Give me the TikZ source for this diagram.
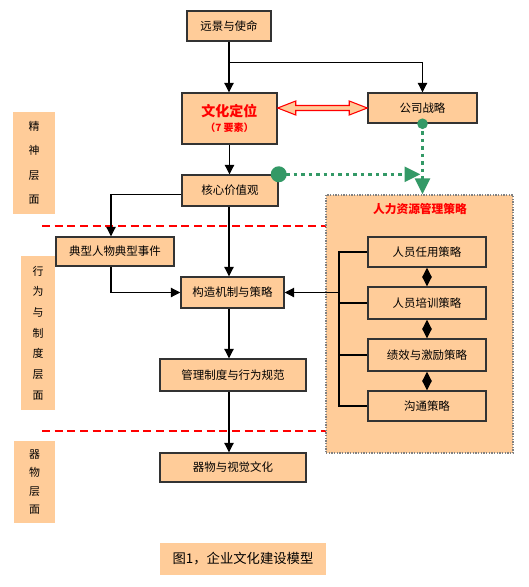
\documentclass[tikz,border=0pt]{standalone}
\usepackage{fontspec}
\setmainfont{Noto Sans CJK SC}
\newfontfamily\cjk{Noto Sans CJK SC}
\usetikzlibrary{arrows.meta,calc}
\definecolor{peach}{HTML}{FFCC99}
\definecolor{grn}{HTML}{339966}
\definecolor{edge}{HTML}{333333}
\tikzset{
  box/.style={draw=edge,line width=1.1pt,fill=peach,inner sep=0pt,font=\cjk\fontsize{8.6}{10}\selectfont},
  sidebox/.style={fill=peach,inner sep=0pt,align=center,font=\cjk\fontsize{8.2}{10}\selectfont},
  arr/.style={draw=black,line width=0.8pt,-{Triangle[length=7pt,width=7pt]}},
  plain/.style={draw=black,line width=0.8pt},
  dbl/.style={draw=black,line width=0.8pt,{Triangle[length=7pt,width=7pt]}-{Triangle[length=7pt,width=7pt]}},
  greenline/.style={draw=grn,line width=2.6pt,dash pattern=on 2.6pt off 3pt,-{Triangle[length=12pt,width=11pt]}},
  reddash/.style={draw=red,line width=0.9pt,dash pattern=on 6pt off 3.5pt},
}
\begin{document}
\begin{tikzpicture}[x=0.75pt,y=-0.75pt]
\useasboundingbox (0,0) rectangle (529,587);
\fill[white] (0,0) rectangle (529,587);
% red dashed separators
\draw[reddash] (42,226) -- (326,226);
\draw[reddash] (42,431) -- (326,431);
% HR container
\node[draw=gray,densely dotted,line width=1pt,fill=peach,minimum width=140.25pt,minimum height=193.5pt,inner sep=0pt] (hr) at (419.5,324) {};
\node[text=red,font=\cjk\bfseries\fontsize{8.8}{10}\selectfont] (hrtitle) at (420,209) {人力资源管理策略};
% main boxes
\node[box,minimum width=63pt,minimum height=22.5pt] (vision) at (229,26) {远景与使命};
\node[box,minimum width=71.25pt,minimum height=38.25pt,align=center] (culture) at (229.5,118.5)
  {{\color{red}\bfseries\fontsize{10.5}{12}\selectfont 文化定位}\\[1pt]{\color{red}\bfseries\fontsize{7.5}{9}\selectfont （7 要素）}};
\node[box,minimum width=81.75pt,minimum height=22.5pt] (strategy) at (422.5,108) {公司战略};
\node[box,minimum width=72pt,minimum height=23.25pt] (core) at (230,190.5) {核心价值观};
\node[box,minimum width=88.5pt,minimum height=21.75pt] (typical) at (115,251.5) {典型人物典型事件};
\node[box,minimum width=77.25pt,minimum height=23.25pt] (build) at (232.5,292.5) {构造机制与策略};
\node[box,minimum width=109.5pt,minimum height=24pt] (manage) at (233,375) {管理制度与行为规范};
\node[box,minimum width=109.5pt,minimum height=21.75pt] (artifact) at (233,467.5) {器物与视觉文化};
% HR sub boxes
\node[box,minimum width=88.5pt,minimum height=22.5pt] (hr1) at (427,252) {人员任用策略};
\node[box,minimum width=88.5pt,minimum height=24pt] (hr2) at (427,303) {人员培训策略};
\node[box,minimum width=88.5pt,minimum height=24pt] (hr3) at (427,355) {绩效与激励策略};
\node[box,minimum width=88.5pt,minimum height=22.5pt] (hr4) at (427,406) {沟通策略};
% side labels
\node[sidebox,minimum width=31.5pt,minimum height=76.5pt,font=\cjk\fontsize{8.2}{18.4}\selectfont] (side1) at (34,163) {精\\神\\层\\面};
\node[sidebox,minimum width=25.5pt,minimum height=115.5pt,font=\cjk\fontsize{8.2}{15.5}\selectfont] (side2) at (38,333) {行\\为\\与\\制\\度\\层\\面};
\node[sidebox,minimum width=30.75pt,minimum height=61.5pt,font=\cjk\fontsize{8.2}{13.8}\selectfont] (side3) at (34.5,482) {器\\物\\层\\面};
% caption
\node[fill=peach,minimum width=124.5pt,minimum height=24pt,inner sep=0pt,font=\cjk\fontsize{10}{12}\selectfont] (caption) at (243,559) {图1，企业文化建设模型};
% connectors
\draw[arr] (vision.south) -- (vision.south |- culture.north);
\draw[arr] ($(vision.south)+(0,21)$) -| (strategy.north);
\draw[arr] (culture.south) -- (culture.south |- core.north);
\draw[arr] ($(core.west)+(0,4)$) -| ($(typical.north)+(-4,0)$);
\draw[arr] ($(typical.south)+(-4,0)$) |- (build.west);
\draw[arr] ($(core.south)+(-1,0)$) -- ($(core.south |- build.north)+(-1,0)$);
\draw[arr] ($(core.south |- build.south)+(-1,0)$) -- ($(core.south |- manage.north)+(-1,0)$);
\draw[arr] ($(core.south |- manage.south)+(-1,0)$) -- ($(core.south |- artifact.north)+(-1,0)$);
% HR bracket
\coordinate (bx) at (339,0);
\draw[plain] (hr1.west) -| (hr4.west -| bx) -- (hr4.west);
\draw[plain] (hr2.west) -- (hr2.west -| bx);
\draw[plain] (hr3.west) -- (hr3.west -| bx);
\draw[arr] (build.east -| bx) -- (build.east);
% HR double arrows
\draw[dbl] (hr1.south) -- (hr2.north);
\draw[dbl] (hr2.south) -- (hr3.north);
\draw[dbl] (hr3.south) -- (hr4.north);
% red hollow double arrow
\coordinate (la) at (culture.east |- strategy.west);
\draw[red,line width=0.8pt,fill=peach,line join=miter]
  (la) -- ++(18,-7) -- ++(0,4.5) -- ($(strategy.west)+(-18,-2.5)$) -- ++(0,-4.5) -- (strategy.west)
  -- ++(-18,7) -- ++(0,-4.5) -- ($(la)+(18,2.5)$) -- ++(0,4.5) -- cycle;
% green dotted
\draw[greenline] (core.north east) -- ($(core.north east -| strategy.south)+(-2,0)$);
\draw[greenline] (strategy.south) -- (strategy.south |- hr.north);
\fill[grn] (core.north east) circle (6pt);
\fill[grn] (strategy.south) circle (4pt);
\end{tikzpicture}
\end{document}
